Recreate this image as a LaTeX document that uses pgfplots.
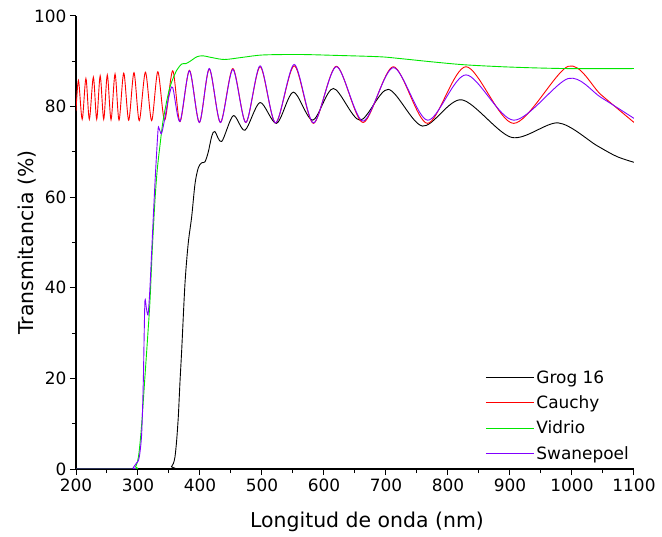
\documentclass[border=0pt]{standalone}
\usepackage{fontspec}
\setmainfont{DejaVu Sans}
\usepackage{pgfplots}
\pgfplotsset{compat=1.18}
\definecolor{cauchy}{RGB}{255,0,0}
\definecolor{vidrio}{RGB}{0,230,0}
\definecolor{swane}{RGB}{128,0,255}
\pgfplotsset{
  legend image code/.code={\draw[#1, line width=1.1bp] (0bp,0bp) -- (48bp,0bp);},
}

\begin{document}
\begin{tikzpicture}
\begin{axis}[
  scale only axis,
  width=558bp, height=453bp,
  xmin=200, xmax=1100, ymin=0, ymax=100,
  axis x line=bottom, axis y line=left,
  axis line style={-, line width=1.1bp},
  tick align=outside,
  xtick={200,300,...,1100}, ytick={0,20,...,100},
  minor x tick num=1, minor y tick num=1,
  major tick length=6bp, minor tick length=4bp,
  every tick/.style={line width=1bp, black},
  ticklabel style={font=\fontsize{17}{20}\selectfont},
  /pgf/number format/assume math mode=true,
  /pgf/number format/1000 sep={},
  xlabel={Longitud de onda (nm)}, ylabel={Transmitancia (\%)},
  label style={font=\fontsize{20.5}{24}\selectfont},
  xlabel shift=14bp, ylabel shift=-9bp,
  xlabel style={xshift=12bp},
  legend style={at={(1,0)}, anchor=south east, yshift=4bp, draw=none, fill=none,
    font=\fontsize{17}{20}\selectfont, row sep=7bp},
  legend cell align=left,
  every axis plot/.append style={line width=0.9bp, smooth, tension=0.5},
]
% Grog 16
\addplot[black] coordinates {
  (200,0) (349,0) (354,0.5) (357,1.2) (359.7,2.7) (362.4,6.4) (365,11.5)
  (366.6,16) (368,20) (370.5,26.3) (375.8,41) (381,49.8) (386.6,55.7)
  (392,63) (397.3,66.5) (402.7,67.6) (408,67.8) (413.4,70) (419,73.5)
  (424,74.5) (435,72.3) (453.7,78) (472.6,74.8) (496.8,80.9) (523.7,76.3)
  (550.5,83.2) (581.8,77) (615,84) (658,77) (703.7,83.8) (759,75.7)
  (822,81.5) (902.7,73.2) (977.9,76.4) (1040,71.4) (1072,69.0) (1100,67.7)
};
\addlegendentry{Grog 16}
% Cauchy
\addplot[cauchy] coordinates {
  (200,79) (204,85.8) (210,77.2) (216,86.2) (221.5,77.2) (228,86.5)
  (233.4,77.2) (239,86.8) (244.7,77.2) (250.5,87.0) (256.5,77.1) (263,87.2)
  (269.4,77.0) (277,87.4) (285,77.0) (293.5,87.5) (302,76.9) (312,87.6)
  (322,76.9) (332,87.7) (343,77.0) (356,87.9) (367.7,76.7) (383,88.0)
  (399,76.5) (415,88.3) (433,76.5) (453,88.4) (474,76.5) (497,88.8)
  (522,76.4) (552,89.0) (583,76.3) (620,88.9) (663,76.5) (712,88.8)
  (767,76.3) (829,88.8) (906,76.3) (994,88.9) (1047,82.6) (1100,76.5)
};
\addlegendentry{Cauchy}
% Vidrio
\addplot[vidrio] coordinates {
  (200,0) (293,0) (296,0.5) (299,1.5) (302,4) (306,10) (311,20) (316,30)
  (319.4,37.3) (323,48.3) (327.4,59.4) (331,66) (335.5,71.5) (340,76.5)
  (345.6,80.7) (350,83.5) (354.4,85.5) (362.4,88) (370.5,89.4) (377.4,89.5)
  (384,90) (395,91) (405,91.2) (420,90.8) (440,90.4) (470,90.9) (502,91.4)
  (561,91.5) (620,91.3) (690,91) (723,90.6) (780,89.8) (830,89.2)
  (905,88.7) (990,88.4) (1100,88.4)
};
\addlegendentry{Vidrio}
% Swanepoel
\addplot[swane] coordinates {
  (200,0) (290,0) (292.4,0.3) (297,1.2) (300.5,1.8) (303,3.5) (306,8)
  (308.5,19) (310,30) (311.3,37.3) (313.5,35.5) (316,34) (318,37) (320,42)
  (324.7,55.7) (328.5,66) (332.3,74.8) (333.9,75.2) (337.6,74) (341,75.8)
  (345.6,79.2) (350,82.3) (356,84.2) (367.7,76.7) (383,87.9) (399,76.5)
  (415,88.4) (433,76.5) (453,88.2) (474,76.5) (497,89.0) (522,76.4)
  (552,89.3) (583,76.4) (620,88.8) (663,76.8) (712,88.6) (767,77.0)
  (829,87.0) (906,77.0) (994,86.2) (1047,82) (1100,77.4)
};
\addlegendentry{Swanepoel}
\end{axis}
\path (current axis.south west) ++(-76bp,-68bp) rectangle ++(662bp,537bp);
\end{tikzpicture}
\end{document}
